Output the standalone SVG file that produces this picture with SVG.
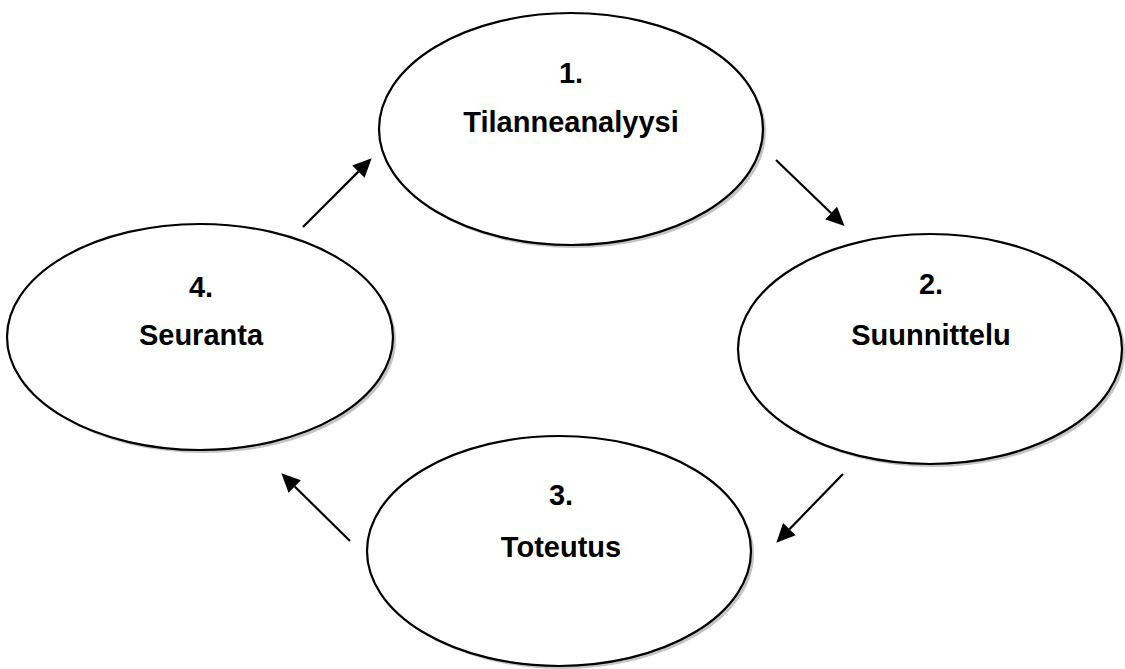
<svg xmlns="http://www.w3.org/2000/svg" width="1125" height="669" viewBox="0 0 1125 669">
<style>
.shadow{fill:#c4c4c4;stroke:none}
.node{fill:#ffffff;stroke:#000000;stroke-width:2.2}
.lbl{font-family:"Liberation Sans",Arial,sans-serif;font-weight:bold;font-size:29px;fill:#000000;text-anchor:middle}
.conn{stroke:#000000;stroke-width:2.2;fill:none;marker-end:url(#arr)}
</style>
<defs>
<marker id="arr" markerUnits="userSpaceOnUse" markerWidth="20" markerHeight="20" refX="0" refY="0" viewBox="0 -8 16 16" orient="auto">
<path d="M0,-7 L15,0 L0,7 Z" fill="#000000"/>
</marker>
</defs>
<rect width="1125" height="669" fill="#ffffff"/>
<g id="node1">
<ellipse class="shadow" cx="574" cy="132" rx="192" ry="116"/>
<ellipse class="node" cx="571" cy="129" rx="192" ry="116"/>
<text class="lbl" x="571" y="83">1.</text>
<text class="lbl" x="571" y="132">Tilanneanalyysi</text>
</g>
<g id="node2">
<ellipse class="shadow" cx="933" cy="352" rx="192" ry="115"/>
<ellipse class="node" cx="930" cy="349" rx="192" ry="115"/>
<text class="lbl" x="931" y="294">2.</text>
<text class="lbl" x="931" y="345">Suunnittelu</text>
</g>
<g id="node3">
<ellipse class="shadow" cx="562" cy="554" rx="192" ry="115"/>
<ellipse class="node" cx="559" cy="551" rx="192" ry="115"/>
<text class="lbl" x="561" y="505">3.</text>
<text class="lbl" x="561" y="557">Toteutus</text>
</g>
<g id="node4">
<ellipse class="shadow" cx="203" cy="340" rx="193" ry="113"/>
<ellipse class="node" cx="200" cy="337" rx="193" ry="113"/>
<text class="lbl" x="201" y="297">4.</text>
<text class="lbl" x="201" y="345">Seuranta</text>
</g>
<g id="connectors">
<line class="conn" x1="776" y1="160" x2="831" y2="213"/>
<line class="conn" x1="843" y1="474" x2="789.4" y2="529.2"/>
<line class="conn" x1="350" y1="541" x2="294.7" y2="486.5"/>
<line class="conn" x1="303" y1="227" x2="358.4" y2="171.6"/>
</g>
</svg>
